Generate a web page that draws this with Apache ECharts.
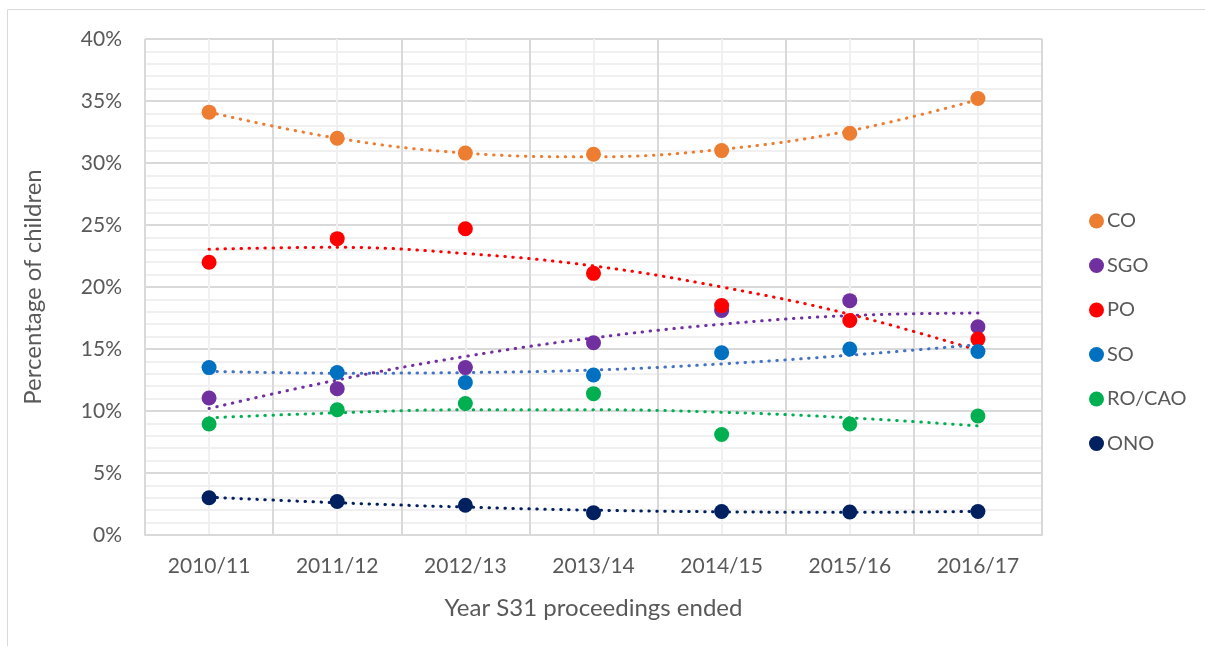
<!DOCTYPE html>
<html>
<head>
<meta charset="utf-8">
<script src="https://cdn.jsdelivr.net/npm/echarts@6/dist/echarts.min.js"></script>
<style>
html,body{margin:0;padding:0;background:#fff;}
#chart{width:1205px;height:646px;}
</style>
</head>
<body>
<div id="chart"></div>
<script>
// ---- Data (percentages) ----
var categories = ['2010/11','2011/12','2012/13','2013/14','2014/15','2015/16','2016/17'];
var seriesNames = ['CO','SGO','PO','SO','RO/CAO','ONO'];
var CO    = [34.1, 32.0, 30.8, 30.7, 31.0, 32.4, 35.2];
var SGO   = [11.05, 11.8, 13.5, 15.5, 18.1, 18.9, 16.8];
var PO    = [22.0, 23.9, 24.7, 21.1, 18.5, 17.3, 15.8];
var SO    = [13.5, 13.1, 12.3, 12.9, 14.7, 15.0, 14.8];
var ROCAO = [8.95, 10.1, 10.6, 11.4, 8.1, 8.95, 9.6];
var ONO   = [3.0, 2.7, 2.4, 1.8, 1.9, 1.85, 1.9];
// trendline values read at each category (dotted curves)
var CO_trend    = [34.1, 32.0, 30.8, 30.5, 31.1, 32.6, 35.1];
var SGO_trend   = [10.2, 12.5, 14.4, 15.9, 17.0, 17.7, 17.9];
var PO_trend    = [23.05, 23.2, 22.7, 21.7, 20.0, 17.8, 14.9];
var SO_trend    = [13.2, 13.05, 13.1, 13.3, 13.8, 14.5, 15.35];
var ROCAO_trend = [9.45, 9.85, 10.1, 10.1, 9.9, 9.45, 8.8];
var ONO_trend   = [3.05, 2.6, 2.25, 2.0, 1.87, 1.83, 1.9];
var yTicks = [0, 5, 10, 15, 20, 25, 30, 35, 40];

var values = [CO, SGO, PO, SO, ROCAO, ONO];
var trends = [CO_trend, SGO_trend, PO_trend, SO_trend, ROCAO_trend, ONO_trend];
var colors = ['#ED7D31', '#7030A0', '#FF0000', '#0070C0', '#00B050', '#002060'];
var trendColors = ['#ED7D31', '#7030A0', '#FF0000', '#4472C4', '#00B050', '#002060'];

var FONT = 'Lato, "Open Sans", sans-serif';
var TXT = '#595959';

var series = [];
for (var i = 0; i < seriesNames.length; i++) {
  series.push({
    name: seriesNames[i] + ' trend',
    type: 'line',
    xAxisIndex: 0,
    data: trends[i],
    smooth: 0.4,
    showSymbol: false,
    silent: true,
    z: 2,
    lineStyle: { color: trendColors[i], width: 3, type: [0.5, 7.5], cap: 'round' }
  });
}
for (var j = 0; j < seriesNames.length; j++) {
  series.push({
    name: seriesNames[j],
    type: 'scatter',
    xAxisIndex: 0,
    data: values[j],
    symbol: 'circle',
    symbolSize: 15,
    z: 5,
    itemStyle: { color: colors[j], opacity: 1 }
  });
}

var chart = echarts.init(document.getElementById('chart'), null, { renderer: 'canvas' });
chart.setOption({
  animation: false,
  backgroundColor: '#ffffff',
  color: colors,
  graphic: [{
    type: 'rect',
    shape: { x: 7.5, y: 9.5, width: 1300, height: 700 },
    style: { fill: 'none', stroke: '#d9d9d9', lineWidth: 1 },
    silent: true, z: -10
  }],
  grid: { left: 145, right: 163, top: 39, bottom: 111, containLabel: false },
  legend: {
    orient: 'vertical',
    left: 1084,
    top: 206,
    itemWidth: 15,
    itemHeight: 15,
    itemGap: 24.5,
    icon: 'circle',
    data: seriesNames,
    textStyle: { color: TXT, fontSize: 20, fontFamily: FONT, padding: [0, 0, 0, -2] }
  },
  xAxis: [{
    type: 'category',
    data: categories,
    boundaryGap: true,
    name: 'Year S31 proceedings ended',
    nameLocation: 'middle',
    nameGap: 61,
    nameTextStyle: { color: TXT, fontSize: 24, fontFamily: FONT },
    axisLine: { show: true, lineStyle: { color: '#d9d9d9', width: 2 } },
    axisTick: { show: false },
    axisLabel: { interval: 0, color: TXT, fontSize: 21, fontFamily: FONT, margin: 21 },
    splitLine: { show: false }
  }, {
    type: 'value',
    position: 'top',
    min: 0, max: 14, interval: 1,
    axisLine: { show: false },
    axisTick: { show: false },
    axisLabel: { show: false },
    splitLine: { show: true, showMinLine: true, showMaxLine: true, lineStyle: { color: ['#d9d9d9', '#f0f0f0'], width: 2 } }
  }],
  yAxis: {
    type: 'value',
    min: 0, max: 40, interval: 5,
    name: 'Percentage of children',
    nameLocation: 'middle',
    nameGap: 100,
    nameTextStyle: { color: TXT, fontSize: 24, fontFamily: FONT },
    axisLine: { show: false },
    axisTick: { show: false },
    axisLabel: { color: TXT, fontSize: 21, fontFamily: FONT, margin: 23, formatter: '{value}%' },
    splitLine: { show: true, lineStyle: { color: '#d9d9d9', width: 2 } },
    minorTick: { show: false, splitNumber: 5 },
    minorSplitLine: { show: true, lineStyle: { color: '#f0f0f0', width: 2 } }
  },
  series: series
});
</script>
</body>
</html>
